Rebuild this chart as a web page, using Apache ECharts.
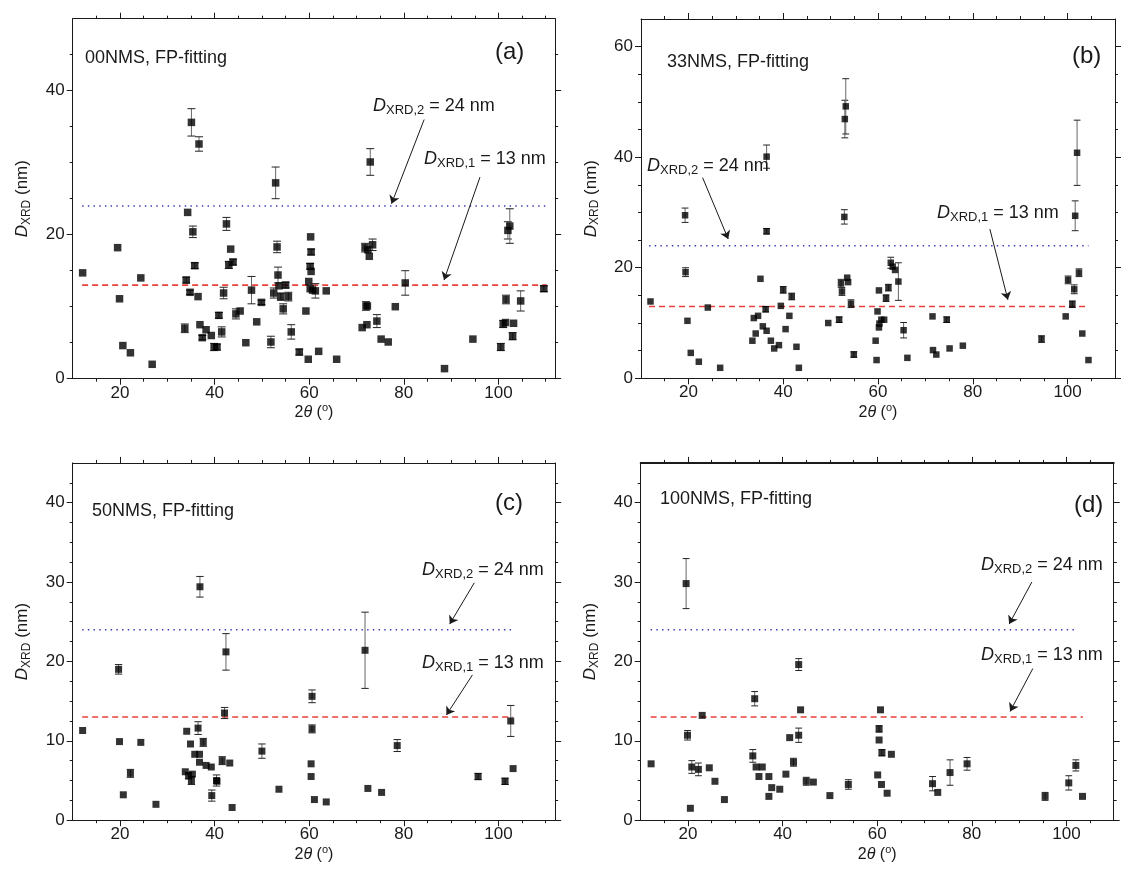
<!DOCTYPE html>
<html>
<head>
<meta charset="utf-8">
<script src="https://cdn.jsdelivr.net/npm/echarts@6/dist/echarts.min.js"></script>
<style>
  html, body { margin: 0; background: #fff; }
  #chart { width: 1123px; height: 888px; }
</style>
</head>
<body>
<div id="chart"></div>
<script>
// each point: [2theta (deg), D_XRD (nm), error (nm)]
const pointsA = [
  [12.1,14.7,0],[19.5,18.2,0],[19.9,11.1,0],[20.6,4.6,0],[22.2,3.6,0],[24.4,14.0,0],[26.8,2.0,0],
  [33.7,7.0,0.6],[34.0,13.7,0.4],[34.3,23.1,0],[34.8,12.0,0.3],[35.1,35.6,1.9],[35.4,20.4,0.8],
  [35.8,15.7,0.4],[36.7,32.6,1.0],[36.5,11.4,0],[36.9,7.5,0],[37.4,5.7,0.3],[38.2,6.8,0],[39.3,6.0,0],
  [39.9,4.4,0.5],[40.5,4.4,0.4],[40.9,8.8,0.4],[41.5,6.5,0.7],[41.9,11.9,0.8],[42.5,21.5,0.9],
  [43.0,15.8,0.5],[43.4,18.0,0],[43.9,16.2,0.4],[44.5,9.0,0.7],[45.4,9.4,0],[46.6,5.0,0],
  [47.8,12.3,1.9],[48.9,7.9,0],[49.9,10.6,0.3],[51.9,5.1,0.8],[52.5,11.9,0.7],[52.9,27.2,2.2],
  [53.2,18.3,0.8],[53.4,14.4,1.1],[53.6,12.9,0],[54.0,11.4,0.5],[54.5,9.7,0.7],[55.0,13.0,0.4],
  [55.6,11.4,0.6],[56.2,6.5,1.0],[57.9,3.7,0.4],[59.3,9.4,0],[59.8,2.7,0],[60.3,19.7,0],
  [60.4,17.6,0.4],[60.2,15.6,0.4],[60.4,14.9,0],[59.9,13.5,0],[60.2,12.5,0],[60.7,12.3,0],
  [61.3,12.2,1.0],[63.6,12.2,0],[62.0,3.8,0],[65.8,2.7,0],
  [72.9,30.1,1.85],[71.8,18.2,0.6],[72.4,17.9,0],[72.7,17.0,0],[73.4,18.6,0.8],[72.0,10.1,0.6],
  [72.3,10.1,0],[71.2,7.1,0],[72.2,7.5,0],[74.3,8.0,0.9],[75.2,5.5,0],[76.7,5.1,0],[78.2,10.0,0],
  [80.3,13.3,1.7],[88.6,1.4,0],[94.6,5.5,0],[100.5,4.4,0.5],[101.0,7.6,0.5],[101.5,7.8,0],
  [101.6,11.0,0.6],[102.0,20.6,1.2],[102.4,21.2,2.4],[103.0,5.9,0.5],[103.2,7.7,0],
  [104.7,10.8,1.4],[109.6,12.5,0.4]
];
const pointsB = [
  [12.0,13.9,0],[19.3,29.5,1.3],[19.4,19.2,0.8],[19.8,10.4,0],[20.5,4.6,0],[22.2,3.0,0],[24.1,12.8,0],
  [26.7,1.9,0],[33.5,6.8,0],[33.8,10.9,0],[34.2,8.1,0],[34.7,11.3,0],[35.2,18.0,0],[35.7,9.4,0],
  [36.3,12.5,0.5],[36.5,40.1,2.1],[36.5,26.6,0.5],[36.5,8.6,0],[37.4,6.8,0],[38.1,5.4,0],[39.1,6.0,0],
  [39.5,13.1,0],[40.0,16.0,0.6],[40.5,8.9,0],[41.3,11.3,0],[41.8,14.8,0.6],[42.8,5.7,0],[43.3,1.9,0],
  [49.5,10.0,0],[51.8,10.6,0.5],[52.2,17.2,0.7],[52.4,15.7,0.7],[53.0,46.9,3.4],[53.2,49.2,5.0],
  [52.9,29.2,1.3],[53.5,18.2,0],[53.7,17.4,0],[54.3,13.5,0.7],[54.9,4.3,0.5],
  [59.5,6.8,0],[59.7,3.3,0],[59.9,12.1,0],[60.2,15.9,0],[60.2,9.2,0],[60.3,9.9,0],[60.7,10.6,0],
  [61.3,10.6,0],[61.7,14.5,0.6],[62.2,16.4,0.6],[62.7,20.9,1.0],[63.1,20.2,0],[63.6,19.6,0],
  [64.3,17.5,3.4],[65.4,8.7,1.4],[66.2,3.7,0],
  [71.5,11.2,0],[71.6,5.1,0],[72.3,4.3,0],[74.5,10.6,0.5],[75.1,5.4,0],[77.9,5.9,0],
  [94.5,7.1,0.6],[99.6,11.2,0],[100.1,17.8,0.7],[101.4,16.1,0.8],[101.0,13.4,0.6],[101.6,29.4,2.7],
  [102.0,40.8,5.9],[102.4,19.1,0.7],[103.1,8.1,0],[104.4,3.3,0]
];
const pointsC = [
  [12.1,11.3,0],[19.7,19.0,0.6],[19.9,9.9,0],[20.7,3.2,0],[22.2,5.9,0.5],[24.4,9.8,0],[27.6,2.0,0],
  [33.8,6.1,0],[34.1,11.2,0],[34.5,5.6,0.4],[34.9,9.6,0],[35.1,5.0,0.5],[35.3,5.8,0],[35.8,8.3,0],
  [36.5,11.6,0.8],[36.9,29.4,1.3],[36.8,8.3,0],[36.8,7.3,0],[37.6,9.8,0.5],[38.2,6.9,0],[39.3,6.7,0],
  [39.4,3.1,0.7],[40.4,5.0,0.7],[40.5,4.9,0],[41.6,7.5,0.5],[42.1,13.5,0.7],[42.4,21.2,2.3],
  [43.2,7.2,0],[43.7,1.6,0],[50.0,8.7,0.9],[53.6,3.9,0],[60.6,15.6,0.8],[60.6,11.5,0.5],[60.4,7.1,0],
  [60.4,5.5,0],[61.1,2.6,0],[63.6,2.3,0],[71.8,21.4,4.8],[72.4,4.0,0],[75.3,3.5,0],[78.6,9.4,0.75],
  [95.7,5.5,0.4],[101.4,4.9,0.4],[102.6,12.5,1.95],[103.1,6.5,0]
];
const pointsD = [
  [12.2,7.1,0],[19.6,29.8,3.15],[19.9,10.7,0.6],[20.5,1.5,0],[20.8,6.7,0.8],[22.2,6.4,0.8],[23.0,13.2,0],
  [24.5,6.6,0],[25.7,4.9,0],[27.7,2.6,0],[33.7,8.1,0.8],[34.1,15.3,0.9],[34.4,6.7,0],[35.0,5.5,0],
  [35.7,6.7,0],[37.1,5.5,0],[37.1,3.0,0],[37.7,4.1,0],[39.4,3.9,0],[40.7,5.8,0],[41.5,10.4,0],
  [42.3,7.3,0.5],[43.4,19.6,0.75],[43.4,10.7,0.9],[43.8,13.9,0],[45.0,4.9,0.5],[46.5,4.8,0],
  [50.0,3.1,0],[53.9,4.5,0.6],[60.7,13.9,0],[60.4,11.5,0.4],[60.4,10.1,0],[61.0,8.5,0.4],[63.0,8.3,0],
  [60.1,5.7,0],[60.9,4.5,0],[62.1,3.4,0],[71.7,4.6,0.9],[72.8,3.5,0],[75.4,6.0,1.6],[79.0,7.1,0.8],
  [95.5,3.0,0.5],[100.5,4.7,0.9],[102.0,6.9,0.7],[103.4,3.0,0]
];

// reference sizes: D_XRD,2 = 24 nm (dotted), D_XRD,1 = 13 nm (dashed)
const d2LineA = [[12, 24], [110.2, 24]];
const d1LineA = [[12, 13], [110.2, 13]];
const d2LineB = [[11.7, 24], [104.4, 24]];
const d1LineB = [[11.7, 13], [103.7, 13]];
const d2LineC = [[12, 24], [103.2, 24]];
const d1LineC = [[12, 13], [103, 13]];
const d2LineD = [[12.1, 24], [102.4, 24]];
const d1LineD = [[12.1, 13], [103.5, 13]];

// annotation arrows, [from, to] in data units
const arrowsA = [[[84.3, 36.0], [77.4, 24.3]], [[96.1, 28.0], [88.5, 13.7]]];
const arrowsB = [[[23.0, 36.3], [28.4, 25.2]], [[83.6, 27.0], [87.4, 14.2]]];
const arrowsC = [[[94.9, 29.9], [89.7, 24.7]], [[94.5, 18.3], [89.0, 13.25]]];
const arrowsD = [[[92.7, 30.0], [87.9, 24.7]], [[92.9, 19.1], [88.1, 13.7]]];

const xMajor = [20, 40, 60, 80, 100];
const yMajorA = [0, 20, 40];
const yMajorB = [0, 20, 40, 60];
const yMajorCD = [0, 10, 20, 30, 40];

const sampleNames = ['00NMS, FP-fitting', '33NMS, FP-fitting', '50NMS, FP-fitting', '100NMS, FP-fitting'];
const panelTags = ['(a)', '(b)', '(c)', '(d)'];

const FONT = '"Liberation Sans", Arial, Helvetica, sans-serif';
const ink = '#1a1a1a';

function steps(from, to, step) {
  const out = [];
  for (let v = from; v <= to + 1e-9; v += step) out.push(+v.toFixed(2));
  return out;
}

const panels = [
  {pts: pointsA, d2: d2LineA, d1: d1LineA, arrows: arrowsA, xMax: 112, yMax: 50, yMajor: yMajorA, yStep: 5,
   grid: {left: 72.7, top: 18.7, width: 482.5, height: 360}, sym: 7.5, cap: 4,
   name: [85, 58], tag: [495, 52], d2Text: [373, 106], d1Text: [424, 159]},
  {pts: pointsB, d2: d2LineB, d1: d1LineB, arrows: arrowsB, xMax: 110, yMax: 65, yMajor: yMajorB, yStep: 5,
   grid: {left: 641, top: 19, width: 474, height: 359.3}, sym: 6.5, cap: 3.4,
   name: [667, 62], tag: [1072, 56], d2Text: [647, 166], d1Text: [937, 213]},
  {pts: pointsC, d2: d2LineC, d1: d1LineC, arrows: arrowsC, xMax: 112, yMax: 45, yMajor: yMajorCD, yStep: 2.5,
   grid: {left: 72.7, top: 462.9, width: 482.5, height: 357.3}, sym: 7, cap: 3.7,
   name: [92, 511], tag: [495, 503], d2Text: [422, 570], d1Text: [422, 663]},
  {pts: pointsD, d2: d2LineD, d1: d1LineD, arrows: arrowsD, xMax: 110, yMax: 45, yMajor: yMajorCD, yStep: 2.5,
   grid: {left: 640.7, top: 462.9, width: 473, height: 357.3}, sym: 7, cap: 3.4, topWidth: 2,
   name: [660, 499], tag: [1074, 505], d2Text: [981, 565], d1Text: [981, 655]}
];

const tok = (size, extra) => Object.assign({fontFamily: FONT, fontSize: size, fontWeight: 'normal', color: ink}, extra);
const richAxisX = {
  n: tok(16, {lineHeight: 20}),
  i: tok(16, {fontStyle: 'italic', lineHeight: 20}),
  s: tok(11, {lineHeight: 8, verticalAlign: 'top'})
};
const richAxisY = {
  n: tok(17, {lineHeight: 20}),
  i: tok(17, {fontStyle: 'italic', lineHeight: 20}),
  s: tok(12, {lineHeight: 8, verticalAlign: 'bottom'})
};
const richAnn = {
  n: tok(18, {lineHeight: 22}),
  i: tok(18, {fontStyle: 'italic', lineHeight: 22}),
  s: tok(13, {lineHeight: 10, verticalAlign: 'bottom'})
};

const grids = [], xAxes = [], yAxes = [], series = [], titles = [];

panels.forEach((p, gi) => {
  grids.push(Object.assign({containLabel: false, outerBoundsMode: 'none'}, p.grid));
  const line = {color: ink, width: 1};
  const xMinor = steps(15, p.xMax - 1, 5);
  const yMinor = steps(p.yStep, p.yMax - p.yStep, p.yStep);
  const common = {type: 'value', gridIndex: gi, splitLine: {show: false}};
  const xr = {min: 10, max: p.xMax};
  const yr = {min: 0, max: p.yMax};
  const label = {fontFamily: FONT, fontSize: 17, color: ink};

  xAxes.push(
    Object.assign({}, common, xr, {position: 'bottom',
      axisLine: {show: true, onZero: false, lineStyle: line},
      axisTick: {show: true, length: 6, customValues: xMajor, lineStyle: line},
      axisLabel: Object.assign({show: true, customValues: xMajor, margin: 6}, label),
      name: '{n|2}{i|θ}{n| (}{s|o}{n|)}', nameLocation: 'middle', nameGap: 24,
      nameTextStyle: {rich: richAxisX}}),
    Object.assign({}, common, xr, {position: 'bottom',
      axisLine: {show: false, onZero: false},
      axisTick: {show: true, length: 3, customValues: xMinor, lineStyle: line},
      axisLabel: {show: false}}),
    Object.assign({}, common, xr, {position: 'top',
      axisLine: {show: true, onZero: false, lineStyle: {color: ink, width: p.topWidth || 1}},
      axisTick: {show: true, length: 6, customValues: xMajor, lineStyle: line},
      axisLabel: {show: false}}),
    Object.assign({}, common, xr, {position: 'top',
      axisLine: {show: false, onZero: false},
      axisTick: {show: true, length: 3, customValues: xMinor, lineStyle: line},
      axisLabel: {show: false}})
  );
  yAxes.push(
    Object.assign({}, common, yr, {position: 'left',
      axisLine: {show: true, onZero: false, lineStyle: line},
      axisTick: {show: true, length: 6, customValues: p.yMajor, lineStyle: line},
      axisLabel: Object.assign({show: true, customValues: p.yMajor, margin: 8}, label),
      name: '{i|D}{s|XRD}{n| (nm)}', nameLocation: 'middle', nameGap: 40, nameRotate: 90,
      nameTextStyle: {rich: richAxisY}}),
    Object.assign({}, common, yr, {position: 'left',
      axisLine: {show: false, onZero: false},
      axisTick: {show: true, length: 3, customValues: yMinor, lineStyle: line},
      axisLabel: {show: false}}),
    Object.assign({}, common, yr, {position: 'right',
      axisLine: {show: true, onZero: false, lineStyle: line},
      axisTick: {show: true, length: 6, customValues: p.yMajor, lineStyle: line},
      axisLabel: {show: false}}),
    Object.assign({}, common, yr, {position: 'right',
      axisLine: {show: false, onZero: false},
      axisTick: {show: true, length: 3, customValues: yMinor, lineStyle: line},
      axisLabel: {show: false}})
  );

  const ax = {xAxisIndex: gi * 4, yAxisIndex: gi * 4};
  series.push(
    Object.assign({type: 'line', data: p.d2, symbol: 'none', silent: true, z: 1,
      lineStyle: {color: '#3636b4', width: 1.5, type: [1.4, 4.3]}}, ax),
    Object.assign({type: 'line', data: p.d1, symbol: 'none', silent: true, z: 1,
      lineStyle: {color: '#e8403a', width: 1.6, type: [6, 4]}}, ax),
    Object.assign({type: 'custom', silent: true, z: 2,
      data: p.pts.filter(d => d[2] > 0),
      renderItem: (params, api) => {
        const x = api.value(0), y = api.value(1), e = api.value(2);
        const t = api.coord([x, y + e]), b = api.coord([x, y - e]);
        const w = p.cap;
        return {type: 'group', children: [
          {type: 'line', shape: {x1: t[0], y1: t[1], x2: b[0], y2: b[1]}, style: {stroke: '#666', lineWidth: 1}},
          {type: 'line', shape: {x1: t[0] - w, y1: t[1], x2: t[0] + w, y2: t[1]}, style: {stroke: '#222', lineWidth: 1}},
          {type: 'line', shape: {x1: b[0] - w, y1: b[1], x2: b[0] + w, y2: b[1]}, style: {stroke: '#222', lineWidth: 1}}
        ]};
      }}, ax),
    Object.assign({type: 'scatter', data: p.pts, symbol: 'rect', symbolSize: p.sym, z: 3,
      itemStyle: {color: '#000'},
      markLine: {silent: true, symbol: ['none', 'arrow'], symbolSize: 8, label: {show: false},
        lineStyle: {color: ink, width: 1, type: 'solid'},
        data: p.arrows.map(a => [{coord: a[0]}, {coord: a[1]}])}}, ax)
  );

  titles.push(
    {left: p.name[0], top: p.name[1] - 11, padding: 0, text: sampleNames[gi],
      textStyle: tok(18, {lineHeight: 22})},
    {left: p.tag[0], top: p.tag[1] - 14, padding: 0, text: panelTags[gi],
      textStyle: tok(24, {lineHeight: 28})},
    {left: p.d2Text[0], top: p.d2Text[1] - 11, padding: 0, text: '{i|D}{s|XRD,2}{n| = 24 nm}',
      textStyle: tok(18, {rich: richAnn})},
    {left: p.d1Text[0], top: p.d1Text[1] - 11, padding: 0, text: '{i|D}{s|XRD,1}{n| = 13 nm}',
      textStyle: tok(18, {rich: richAnn})}
  );
});

const chart = echarts.init(document.getElementById('chart'));
chart.setOption({
  animation: false,
  backgroundColor: '#fff',
  title: titles,
  grid: grids,
  xAxis: xAxes,
  yAxis: yAxes,
  series: series
});
</script>
</body>
</html>
